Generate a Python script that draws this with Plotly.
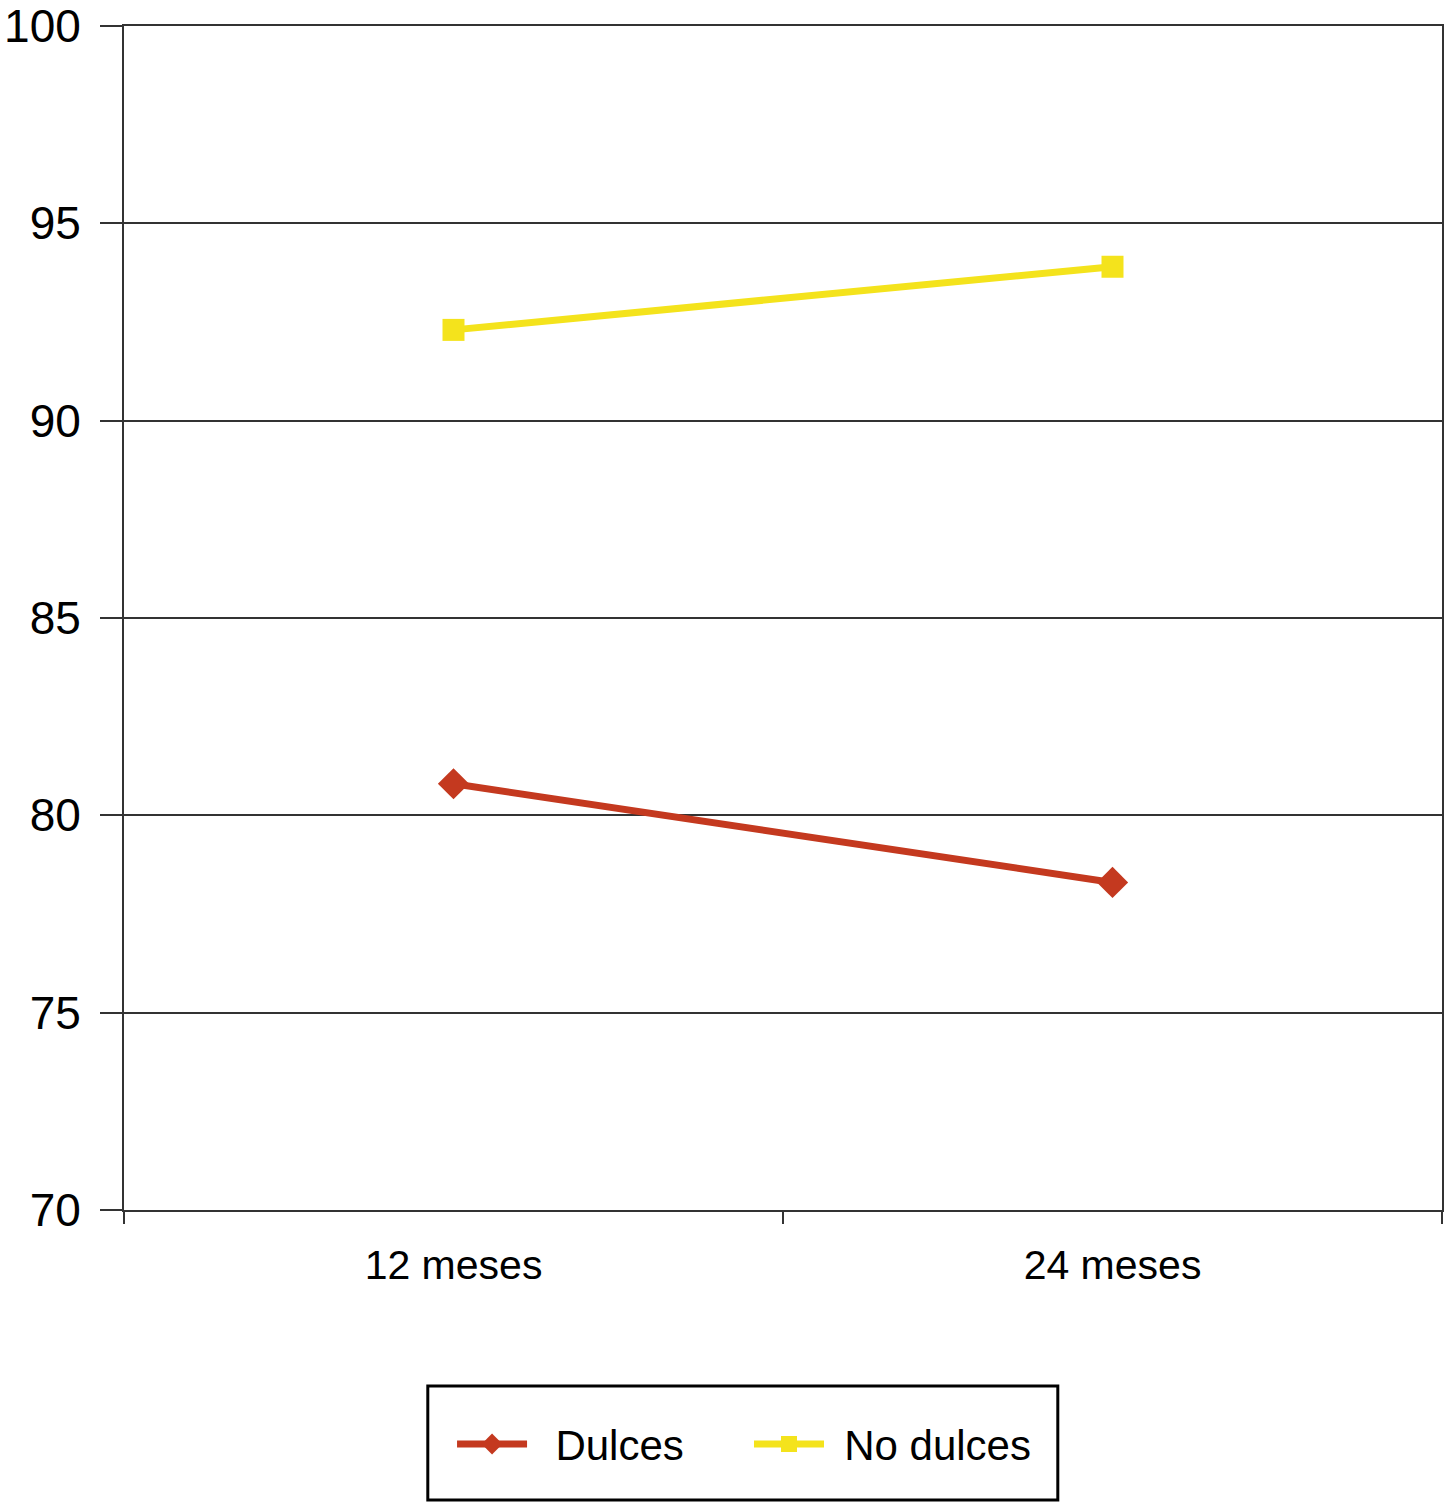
import plotly.graph_objects as go

categories = ["12 meses", "24 meses"]
dulces = [80.8, 78.3]
no_dulces = [92.3, 93.9]
y_ticks = [70, 75, 80, 85, 90, 95, 100]

FONT = "Liberation Sans, Arial, sans-serif"
NB = "\u00a0"

fig = go.Figure()
fig.add_trace(go.Scatter(
    x=categories, y=dulces, name=NB * 2 + "Dulces", mode="lines+markers",
    line=dict(color="#C4391F", width=7),
    marker=dict(symbol="diamond", size=24, color="#C4391F"),
    legend="legend",
))
fig.add_trace(go.Scatter(
    x=categories, y=no_dulces, name=NB + "\u200a" + "No dulces", mode="lines+markers",
    line=dict(color="#F4E31C", width=7),
    marker=dict(symbol="square", size=22, color="#F4E31C"),
    legend="legend2",
))

# legend frame
fig.add_shape(
    type="rect", xref="paper", yref="paper",
    x0=0.2305, x1=0.7085, y0=-0.2450, y1=-0.1486,
    line=dict(color="black", width=3), fillcolor="white", layer="below",
)

legend_common = dict(
    orientation="h", xanchor="left", y=-0.1978, yanchor="middle",
    borderwidth=0, bgcolor="rgba(0,0,0,0)",
    font=dict(family=FONT, size=42, color="black"),
    itemwidth=70, itemsizing="trace",
)

fig.update_layout(
    width=1455, height=1502,
    margin=dict(l=124, r=13, t=26, b=292, autoexpand=False),
    paper_bgcolor="white", plot_bgcolor="white",
    font=dict(family=FONT, size=42, color="black"),
    showlegend=True,
    legend=dict(x=0.2489, **legend_common),
    legend2=dict(x=0.4742, **legend_common),
    xaxis=dict(
        type="category", range=[-0.5, 1.5], tickson="boundaries",
        ticks="outside", ticklen=12, tickwidth=2, tickcolor="#333",
        showline=True, linecolor="#333", linewidth=2, mirror=True,
        showgrid=False, tickfont=dict(size=41), ticklabelstandoff=18,
        automargin=False,
    ),
    yaxis=dict(
        range=[70, 100], tickvals=y_ticks, ticks="outside", ticklen=22,
        tickwidth=2, tickcolor="#333",
        showline=True, linecolor="#333", linewidth=2, mirror=True,
        showgrid=True, gridcolor="#333", gridwidth=2, zeroline=False,
        tickfont=dict(size=46), ticklabelstandoff=10,
        ticklabeloverflow="allow", automargin=False,
    ),
)

fig.write_html(
    "out.html",
    config={"displayModeBar": False},
    post_script="document.body.style.margin='0';",
)
